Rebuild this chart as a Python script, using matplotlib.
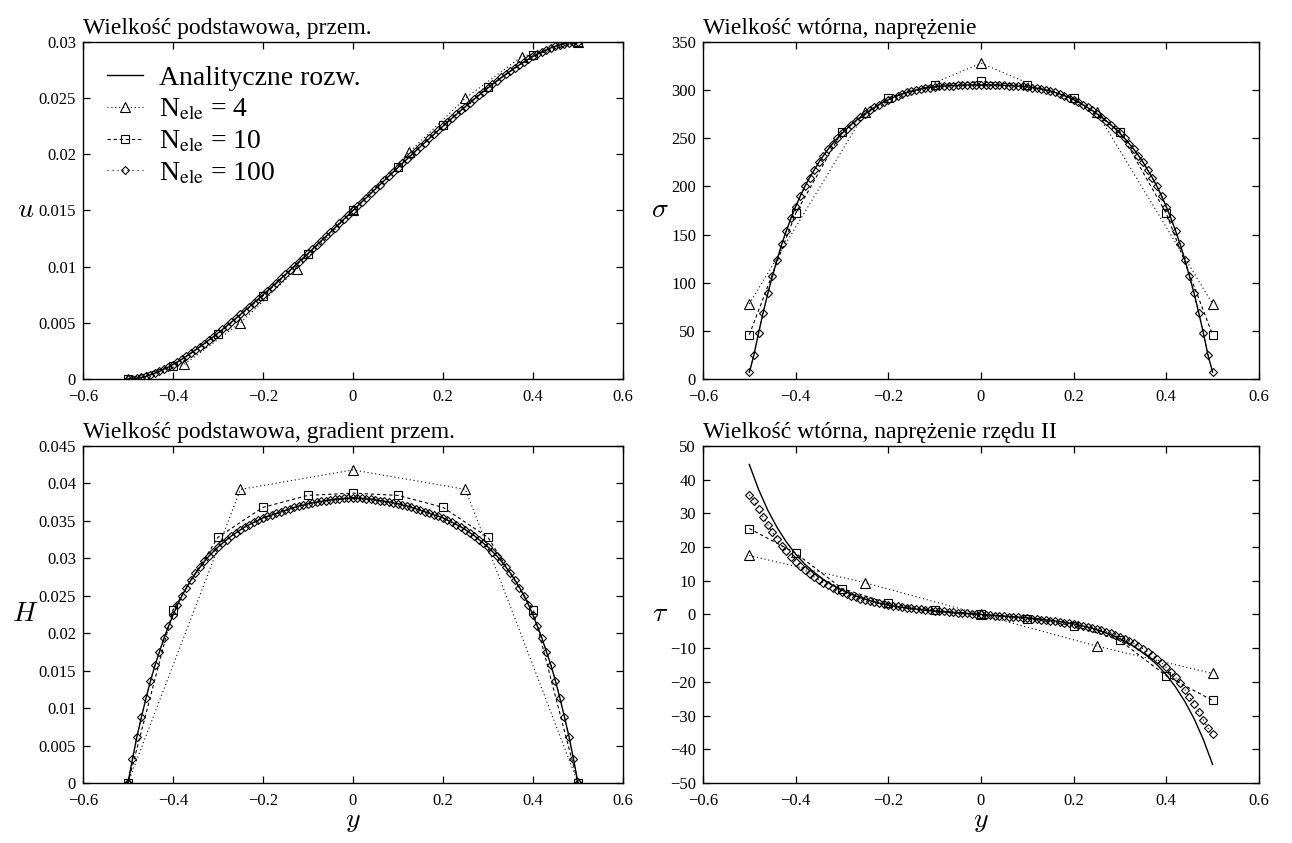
import matplotlib
matplotlib.use("Agg")
import matplotlib.pyplot as plt
import matplotlib.ticker as mticker

# ── Style: Times-like text, inward ticks on all four sides ──────────────────
plt.rcParams.update({
    "font.family": "serif",
    "font.serif": ["Liberation Serif", "DejaVu Serif"],
    "mathtext.fontset": "stix",
    "font.size": 12,
    "axes.linewidth": 1.0,
    "xtick.direction": "in",
    "ytick.direction": "in",
    "xtick.top": True,
    "ytick.right": True,
    "xtick.major.size": 5,
    "ytick.major.size": 5,
    "xtick.major.width": 0.9,
    "ytick.major.width": 0.9,
    "xtick.major.pad": 7,
    "ytick.major.pad": 5,
    "xtick.labelsize": 12,
    "ytick.labelsize": 12,
})

# ── Data ────────────────────────────────────────────────────────────────────
# N_ele = 100 nodes (the analytical curve coincides with them for u, sigma, H)
y100 = [-0.50, -0.49, -0.48, -0.47, -0.46, -0.45, -0.44, -0.43, -0.42, -0.41,
        -0.40, -0.39, -0.38, -0.37, -0.36, -0.35, -0.34, -0.33, -0.32, -0.31,
        -0.30, -0.29, -0.28, -0.27, -0.26, -0.25, -0.24, -0.23, -0.22, -0.21,
        -0.20, -0.19, -0.18, -0.17, -0.16, -0.15, -0.14, -0.13, -0.12, -0.11,
        -0.10, -0.09, -0.08, -0.07, -0.06, -0.05, -0.04, -0.03, -0.02, -0.01,
        0.00,
        0.01, 0.02, 0.03, 0.04, 0.05, 0.06, 0.07, 0.08, 0.09, 0.10,
        0.11, 0.12, 0.13, 0.14, 0.15, 0.16, 0.17, 0.18, 0.19, 0.20,
        0.21, 0.22, 0.23, 0.24, 0.25, 0.26, 0.27, 0.28, 0.29, 0.30,
        0.31, 0.32, 0.33, 0.34, 0.35, 0.36, 0.37, 0.38, 0.39, 0.40,
        0.41, 0.42, 0.43, 0.44, 0.45, 0.46, 0.47, 0.48, 0.49, 0.50]

u100 = [0.00000, 0.00002, 0.00006, 0.00014, 0.00024, 0.00037, 0.00052, 0.00068, 0.00087, 0.00107,
        0.00129, 0.00153, 0.00177, 0.00203, 0.00230, 0.00258, 0.00287, 0.00316, 0.00347, 0.00377,
        0.00409, 0.00441, 0.00474, 0.00507, 0.00541, 0.00575, 0.00609, 0.00644, 0.00679, 0.00714,
        0.00750, 0.00786, 0.00822, 0.00858, 0.00895, 0.00931, 0.00968, 0.01006, 0.01043, 0.01080,
        0.01118, 0.01156, 0.01194, 0.01232, 0.01270, 0.01308, 0.01346, 0.01385, 0.01423, 0.01462,
        0.01500,
        0.01538, 0.01577, 0.01615, 0.01654, 0.01692, 0.01730, 0.01768, 0.01806, 0.01844, 0.01882,
        0.01920, 0.01957, 0.01994, 0.02032, 0.02069, 0.02105, 0.02142, 0.02178, 0.02214, 0.02250,
        0.02286, 0.02321, 0.02356, 0.02391, 0.02425, 0.02459, 0.02493, 0.02526, 0.02559, 0.02591,
        0.02623, 0.02653, 0.02684, 0.02713, 0.02742, 0.02770, 0.02797, 0.02823, 0.02847, 0.02871,
        0.02893, 0.02913, 0.02932, 0.02948, 0.02963, 0.02976, 0.02986, 0.02994, 0.02998, 0.03000]

sig100 = [7, 25, 48, 69, 89, 107, 124, 140, 154, 167,
          179, 190, 200, 209, 217, 225, 232, 238.5, 244.5, 250,
          255, 259.8, 264.2, 268.3, 272.1, 275.6, 278.9, 282.0, 284.9, 287.6,
          290.0, 292.2, 294.2, 296.0, 297.6, 299.0, 300.2, 301.2, 302.0, 302.7,
          303.3, 303.8, 304.2, 304.5, 304.8, 305.0, 305.2, 305.3, 305.4, 305.4,
          305.4,
          305.4, 305.4, 305.3, 305.2, 305.0, 304.8, 304.5, 304.2, 303.8, 303.3,
          302.7, 302.0, 301.2, 300.2, 299.0, 297.6, 296.0, 294.2, 292.2, 290.0,
          287.6, 284.9, 282.0, 278.9, 275.6, 272.1, 268.3, 264.2, 259.8, 255,
          250, 244.5, 238.5, 232, 225, 217, 209, 200, 190, 179,
          167, 154, 140, 124, 107, 89, 69, 48, 25, 7]

H100 = [0.0000, 0.0032, 0.0062, 0.0088, 0.0113, 0.0136, 0.0157, 0.0175, 0.0193, 0.0209,
        0.0224, 0.0238, 0.0250, 0.0261, 0.0271, 0.0280, 0.0288, 0.0296, 0.0303, 0.0309,
        0.0315, 0.0320, 0.0325, 0.0330, 0.0334, 0.0338, 0.0342, 0.0345, 0.0348, 0.0351,
        0.0354, 0.0356, 0.0358, 0.0360, 0.0362, 0.0364, 0.0366, 0.0368, 0.0370, 0.0371,
        0.0373, 0.0374, 0.0375, 0.0376, 0.0377, 0.0378, 0.0379, 0.0379, 0.0380, 0.0380,
        0.0380,
        0.0380, 0.0380, 0.0379, 0.0379, 0.0378, 0.0377, 0.0376, 0.0375, 0.0374, 0.0373,
        0.0371, 0.0370, 0.0368, 0.0366, 0.0364, 0.0362, 0.0360, 0.0358, 0.0356, 0.0354,
        0.0351, 0.0348, 0.0345, 0.0342, 0.0338, 0.0334, 0.0330, 0.0325, 0.0320, 0.0315,
        0.0309, 0.0303, 0.0296, 0.0288, 0.0280, 0.0271, 0.0261, 0.0250, 0.0238, 0.0224,
        0.0209, 0.0193, 0.0175, 0.0157, 0.0136, 0.0113, 0.0088, 0.0062, 0.0032, 0.0000]

tau100 = [35.5, 33.8, 31.3, 28.9, 26.6, 24.4, 22.3, 20.4, 18.7, 17.1,
          15.7, 14.4, 13.2, 12.1, 11.1, 10.2, 9.4, 8.6, 7.9, 7.2,
          6.6, 6.05, 5.55, 5.1, 4.7, 4.3, 3.95, 3.65, 3.35, 3.1,
          2.85, 2.62, 2.4, 2.2, 2.02, 1.85, 1.69, 1.54, 1.4, 1.26,
          1.13, 1.01, 0.89, 0.78, 0.67, 0.56, 0.45, 0.34, 0.22, 0.11,
          0.0,
          -0.11, -0.22, -0.34, -0.45, -0.56, -0.67, -0.78, -0.89, -1.01, -1.13,
          -1.26, -1.4, -1.54, -1.69, -1.85, -2.02, -2.2, -2.4, -2.62, -2.85,
          -3.1, -3.35, -3.65, -3.95, -4.3, -4.7, -5.1, -5.55, -6.05, -6.6,
          -7.2, -7.9, -8.6, -9.4, -10.2, -11.1, -12.1, -13.2, -14.4, -15.7,
          -17.1, -18.7, -20.4, -22.3, -24.4, -26.6, -28.9, -31.3, -33.8, -35.5]

# analytical tau (differs from the FE nodes near the edges)
y_exact = [-0.50, -0.48, -0.46, -0.44, -0.42, -0.40, -0.38, -0.36, -0.34, -0.32,
           -0.30, -0.28, -0.26, -0.24, -0.22, -0.20, -0.18, -0.16, -0.14, -0.12,
           -0.10, -0.08, -0.06, -0.04, -0.02, 0.00,
           0.02, 0.04, 0.06, 0.08, 0.10, 0.12, 0.14, 0.16, 0.18, 0.20,
           0.22, 0.24, 0.26, 0.28, 0.30, 0.32, 0.34, 0.36, 0.38, 0.40,
           0.42, 0.44, 0.46, 0.48, 0.50]
tau_exact = [44.5, 37.1, 30.9, 25.8, 21.5, 17.9, 14.9, 12.5, 10.4, 8.6,
             7.2, 6.0, 5.0, 4.1, 3.4, 2.8, 2.3, 1.9, 1.6, 1.25,
             0.98, 0.75, 0.54, 0.35, 0.17, 0.0,
             -0.17, -0.35, -0.54, -0.75, -0.98, -1.25, -1.6, -1.9, -2.3, -2.8,
             -3.4, -4.1, -5.0, -6.0, -7.2, -8.6, -10.4, -12.5, -14.9, -17.9,
             -21.5, -25.8, -30.9, -37.1, -44.5]

# N_ele = 10
y10 = [-0.5, -0.4, -0.3, -0.2, -0.1, 0.0, 0.1, 0.2, 0.3, 0.4, 0.5]
u10 = [0.0, 0.0012, 0.0040, 0.0074, 0.0111, 0.015, 0.0189, 0.0226, 0.0260, 0.0288, 0.03]
sig10 = [46, 172, 257, 292, 305, 309, 305, 292, 257, 172, 46]
H10 = [0.0, 0.0231, 0.0328, 0.0368, 0.0384, 0.0387, 0.0384, 0.0368, 0.0328, 0.0231, 0.0]
tau10 = [25.5, 18.2, 7.7, 3.3, 1.2, 0.0, -1.2, -3.3, -7.7, -18.2, -25.5]

# N_ele = 4
y4_u = [-0.5, -0.375, -0.25, -0.125, 0.0, 0.125, 0.25, 0.375, 0.5]
u4 = [0.0, 0.0013, 0.0050, 0.0098, 0.015, 0.0202, 0.0250, 0.0287, 0.03]
y4 = [-0.5, -0.25, 0.0, 0.25, 0.5]
sig4 = [78, 277, 328, 277, 78]
H4 = [0.0, 0.0392, 0.0418, 0.0392, 0.0]
tau4 = [17.5, 9.4, 0.0, -9.4, -17.5]

LABELS = ["Analityczne rozw.", r"N$_{\mathrm{ele}}$ = 4",
          r"N$_{\mathrm{ele}}$ = 10", r"N$_{\mathrm{ele}}$ = 100"]
TITLES = ["Wielkość podstawowa, przem.", "Wielkość wtórna, naprężenie",
          "Wielkość podstawowa, gradient przem.", "Wielkość wtórna, naprężenie rzędu II"]

X_TICKS = [-0.6, -0.4, -0.2, 0.0, 0.2, 0.4, 0.6]


def tick_fmt(v, _):
    if abs(v) < 1e-12:
        return "0"
    return f"{v:g}".replace("-", "\u2212")


def panel(ax, title, ylab, ylim, ystep, lab_x, series):
    (ye, ve), (ya, va), (yb, vb), (yc, vc) = series
    ax.plot(ye, ve, "-", color="k", lw=1.0)
    ax.plot(ya, va, linestyle=(0, (1, 2.5)), color="k", lw=0.8,
            marker="^", ms=7.5, mfc="none", mec="k", mew=0.8)
    ax.plot(yb, vb, linestyle=(0, (3, 2.5)), color="k", lw=0.8,
            marker="s", ms=6.3, mfc="none", mec="k", mew=0.8)
    ax.plot(yc, vc, linestyle=(0, (1, 3.5)), color="k", lw=0.8,
            marker="D", ms=4.0, mfc="none", mec="k", mew=0.8)

    ax.set_xlim(-0.6, 0.6)
    ax.set_ylim(*ylim)
    ax.set_xticks(X_TICKS)
    ax.yaxis.set_major_locator(mticker.MultipleLocator(ystep))
    ax.xaxis.set_major_formatter(mticker.FuncFormatter(tick_fmt))
    ax.yaxis.set_major_formatter(mticker.FuncFormatter(tick_fmt))

    ax.set_title(title, loc="left", fontsize=17, pad=6)
    ax.set_ylabel(ylab, rotation=0, fontsize=20, ha="center", va="center",
                  math_fontfamily="cm")
    ax.yaxis.set_label_coords(lab_x, 0.5)


fig = plt.figure(figsize=(12.92, 8.43), dpi=100)
ax_u = fig.add_axes([0.0642, 0.5504, 0.418, 0.3998])
ax_s = fig.add_axes([0.5441, 0.5504, 0.4303, 0.3998])
ax_h = fig.add_axes([0.0642, 0.0712, 0.418, 0.3998])
ax_t = fig.add_axes([0.5441, 0.0712, 0.4303, 0.3998])

panel(ax_u, TITLES[0], r"$u$", (0, 0.03), 0.005, -0.107,
      [(y100, u100), (y4_u, u4), (y10, u10), (y100, u100)])
panel(ax_s, TITLES[1], r"$\sigma$", (0, 350), 50, -0.077,
      [(y100, sig100), (y4, sig4), (y10, sig10), (y100, sig100)])
panel(ax_h, TITLES[2], r"$H$", (0, 0.045), 0.005, -0.107,
      [(y100, H100), (y4, H4), (y10, H10), (y100, H100)])
panel(ax_t, TITLES[3], r"$\tau$", (-50, 50), 10, -0.077,
      [(y_exact, tau_exact), (y4, tau4), (y10, tau10), (y100, tau100)])

for ax in (ax_h, ax_t):
    ax.set_xlabel(r"$y$", fontsize=20, labelpad=0, math_fontfamily="cm")

leg = ax_u.legend(ax_u.get_lines(), LABELS, loc="upper left", frameon=False,
                  fontsize=20, handlelength=1.3, handletextpad=0.6,
                  labelspacing=0.22, borderaxespad=0.45, numpoints=1)

fig.savefig("out.png", dpi=100, facecolor="white")
